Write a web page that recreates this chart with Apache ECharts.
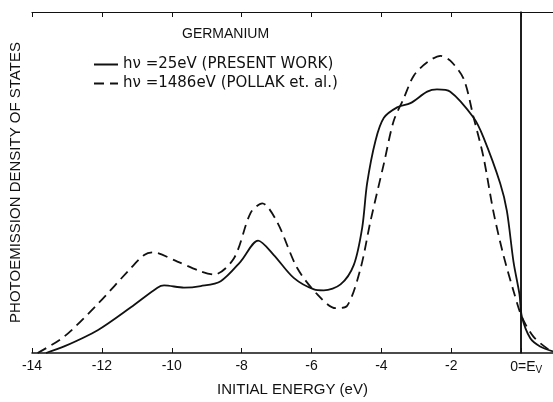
<!DOCTYPE html>
<html>
<head>
<meta charset="utf-8">
<script src="https://cdn.jsdelivr.net/npm/echarts@6/dist/echarts.min.js"></script>
<style>html,body{margin:0;padding:0;background:#fff;}#c{width:553px;height:402px;}</style>
</head>
<body>
<div id="c"></div>
<script>
const tickValues = [-14, -12, -10, -8, -6, -4, -2, 0];
const tickLabels = ['-14', '-12', '-10', '-8', '-6', '-4', '-2', '0=E'];
const zeroSubscript = 'V';

const energySolid = [-13.6, -13.08, -12.12, -11.17, -10.41, -10.22, -9.65, -9.17, -8.6, -8.03, -7.53, -7.08, -6.51, -5.93, -5.65, -5.17, -4.79, -4.55, -4.41, -4.17, -3.93, -3.55, -3.17, -2.69, -2.41, -2.03, -1.36, -1.08, -0.6, -0.41, -0.22, -0.05, 0.02, 0.26, 0.54, 0.91];
const valueSolid = [0, 6.7, 23.3, 46.7, 66.7, 69, 66.7, 68.3, 73.3, 93.3, 114.7, 100, 76.7, 65, 64, 70, 90, 128, 173, 216.7, 240, 250.7, 255, 266.7, 269, 266.7, 240, 220, 173, 145, 93, 60, 37, 15, 6.7, 1.7];

const energyDashed = [-13.84, -13.08, -12.12, -11.17, -10.79, -10.55, -9.84, -9.17, -8.79, -8.22, -7.74, -7.41, -6.98, -6.41, -5.84, -5.31, -4.98, -4.6, -4.31, -3.93, -3.65, -3.36, -3.07, -2.69, -2.31, -2.03, -1.65, -1.36, -1.08, -0.79, -0.51, -0.22, 0.02, 0.35, 0.73, 0.91];
const valueDashed = [0, 16.7, 50, 86.7, 100, 102.7, 93.3, 83.3, 80, 96.7, 143.3, 152.7, 133.3, 86.7, 60, 45.7, 48.3, 86, 135, 193.3, 236.7, 260, 283.3, 296.7, 303.3, 298.3, 280, 240, 200, 143.3, 100, 63.3, 36.7, 16.7, 5, 2];

const nameSolid = 'hν =25eV (PRESENT WORK)';
const nameDashed = 'hν =1486eV (POLLAK et. al.)';

const font = 'Liberation Sans';
const chart = echarts.init(document.getElementById('c'));
chart.setOption({
  animation: false,
  backgroundColor: '#fff',
  title: {
    text: 'GERMANIUM', left: 177, top: 22,
    textStyle: {fontFamily: font, fontSize: 14, fontWeight: 'normal', color: '#111'}
  },
  legend: {
    orient: 'vertical', left: 88, top: 52, itemWidth: 24, itemHeight: 14, itemGap: 4,
    itemStyle: {opacity: 0},
    textStyle: {fontFamily: 'DejaVu Sans', fontSize: 15, color: '#111'},
    data: [nameSolid, nameDashed]
  },
  grid: {left: 31, right: 0, top: 12, bottom: 42},
  xAxis: [{
    type: 'value', min: -14, max: 0.91, position: 'bottom',
    name: 'INITIAL ENERGY (eV)', nameLocation: 'middle', nameGap: 29,
    nameTextStyle: {fontFamily: font, fontSize: 15, color: '#111'},
    axisLine: {show: true, onZero: false, lineStyle: {color: '#111', width: 1.5}},
    axisTick: {show: true, inside: true, length: 5, customValues: tickValues, lineStyle: {color: '#111'}},
    axisLabel: {
      show: true, margin: 6, customValues: tickValues,
      fontFamily: font, fontSize: 14, color: '#111',
      formatter: function (v) {
        const i = tickValues.indexOf(Math.round(v));
        if (i < 0) return '';
        return i === tickValues.length - 1 ? '{z|' + tickLabels[i] + '}{sub|' + zeroSubscript + '}' : tickLabels[i];
      },
      rich: {
        z: {fontFamily: font, fontSize: 14, color: '#111', padding: [0, 0, 0, 10]},
        sub: {fontFamily: font, fontSize: 10, color: '#111', verticalAlign: 'bottom', padding: [6, 0, 0, 0]}
      }
    },
    splitLine: {show: false}
  }, {
    type: 'value', min: -14, max: 0.91, position: 'top',
    axisLine: {show: true, onZero: false, lineStyle: {color: '#111', width: 1.2}},
    axisTick: {show: true, inside: true, length: 5, customValues: tickValues, lineStyle: {color: '#111'}},
    axisLabel: {show: false},
    splitLine: {show: false}
  }],
  yAxis: {
    type: 'value', min: 0, max: 348,
    name: 'PHOTOEMISSION DENSITY OF STATES', nameLocation: 'middle', nameGap: 9,
    nameTextStyle: {fontFamily: font, fontSize: 15, color: '#111'},
    axisLine: {show: true, lineStyle: {color: '#111', width: 1.5}},
    axisTick: {show: false}, axisLabel: {show: false}, splitLine: {show: false}
  },
  series: [{
    name: nameSolid, type: 'line', smooth: 0.3, symbol: 'none',
    data: energySolid.map((e, i) => [e, valueSolid[i]]),
    lineStyle: {color: '#111', width: 1.8, type: 'solid'},
    itemStyle: {color: '#111'},
    markLine: {
      silent: true, symbol: 'none', label: {show: false},
      lineStyle: {color: '#111', width: 1.5, type: 'solid'},
      data: [{xAxis: 0}]
    }
  }, {
    name: nameDashed, type: 'line', smooth: 0.3, symbol: 'none',
    data: energyDashed.map((e, i) => [e, valueDashed[i]]),
    lineStyle: {color: '#111', width: 1.8, type: [10, 6]},
    itemStyle: {color: '#111'}
  }]
});
</script>
</body>
</html>
